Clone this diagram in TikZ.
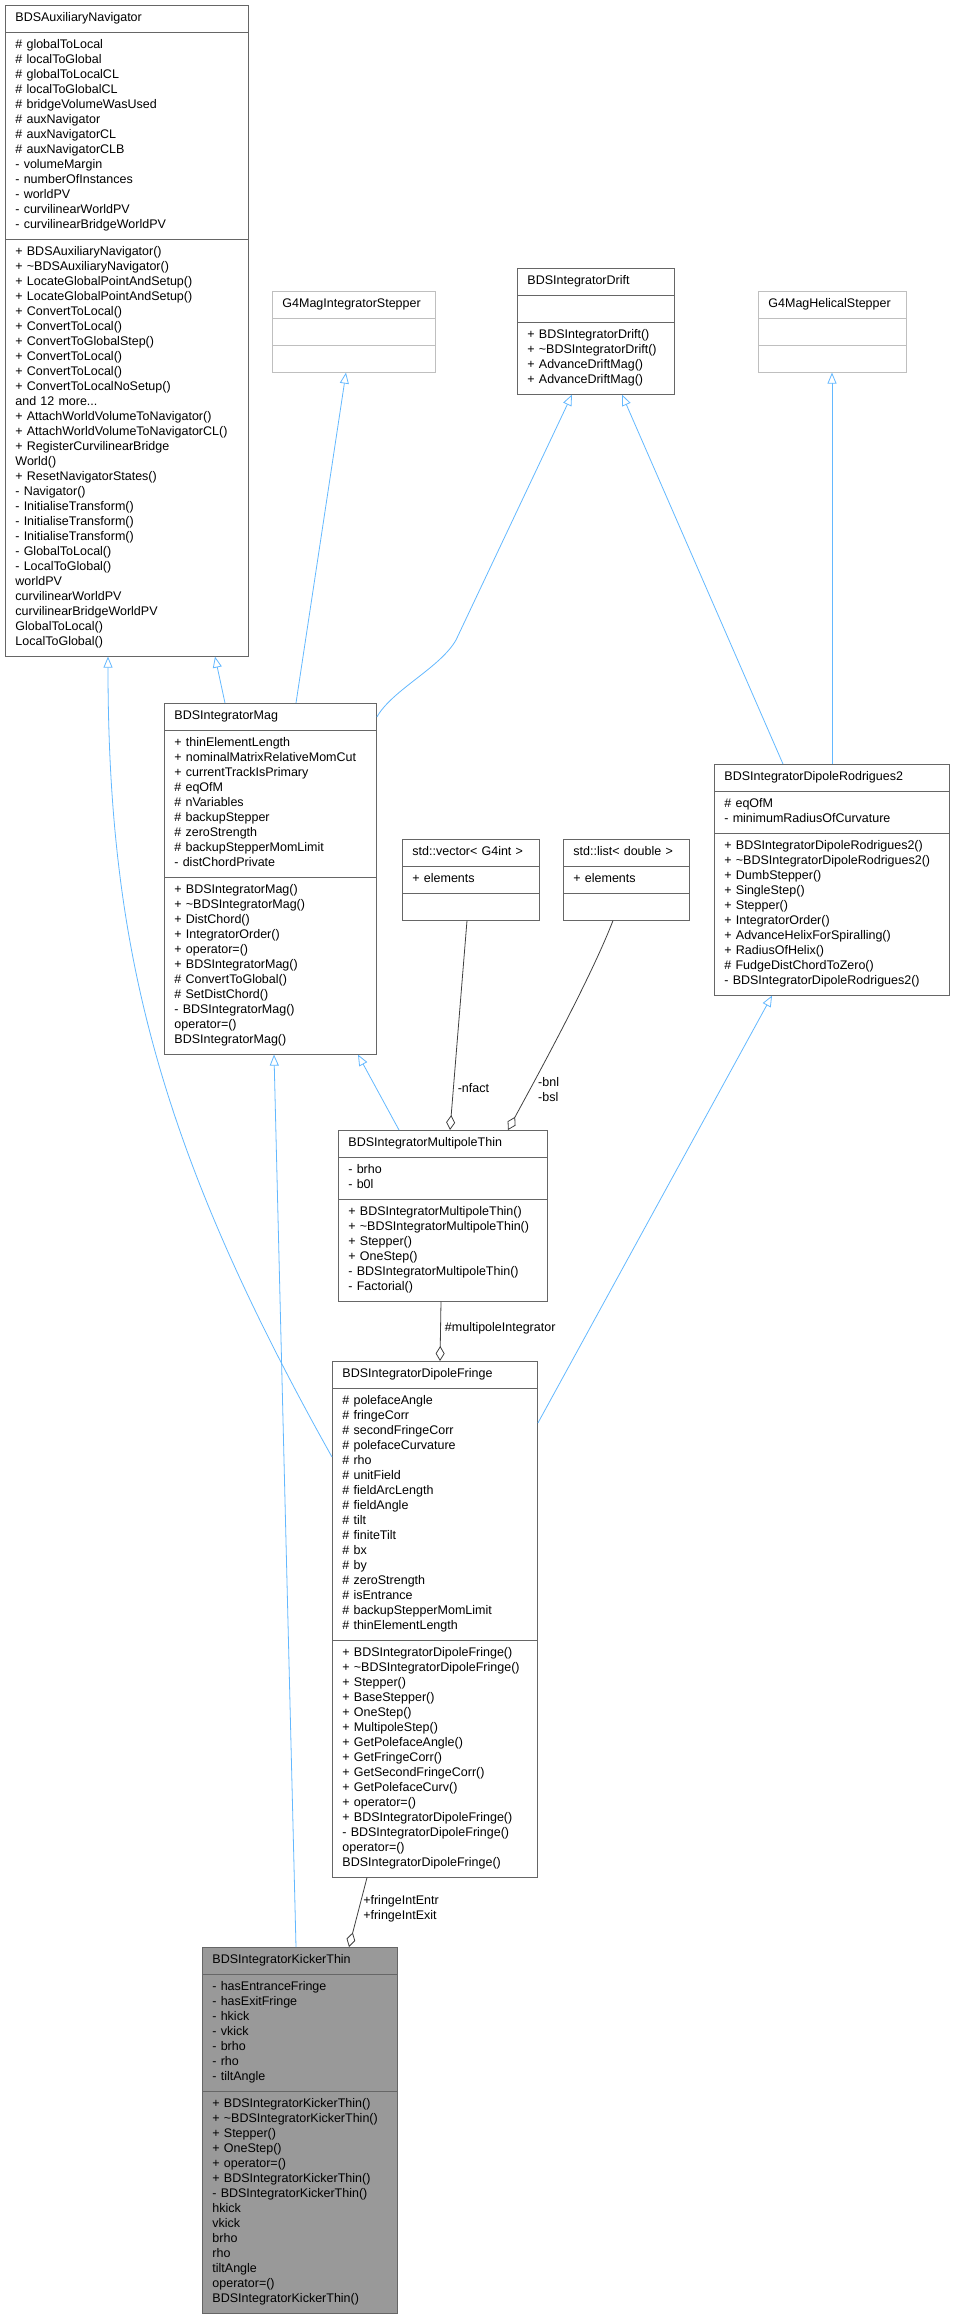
\documentclass[tikz,border=0pt]{standalone}
\usepackage{fontspec}
\setmainfont{Liberation Sans}
\usepackage{tikz}
\usetikzlibrary{shapes.multipart, arrows.meta, positioning, calc}
\definecolor{boxLine}{RGB}{102,102,102}
\definecolor{extLine}{RGB}{191,191,191}
\definecolor{inhBlue}{RGB}{99,184,255}
\definecolor{aggrGray}{RGB}{64,64,64}
\definecolor{kickFill}{RGB}{153,153,153}
\newcommand{\classfont}{\fontsize{12.5}{15}\selectfont}
\newcommand{\mlines}[1]{\strut#1\strut}
\tikzstyle{classBox} = [rectangle split, rectangle split parts=3, draw=boxLine, fill=white, line width=0.9pt, anchor=north west, inner xsep=10pt, inner ysep=5.5pt, align=left, font=\classfont]
\tikzstyle{extBox} = [classBox, draw=extLine]
\tikzstyle{inherit} = [draw=inhBlue, line width=0.8pt, -{Triangle[open, length=11pt, width=9pt, fill=white]}]
\tikzstyle{aggr} = [draw=aggrGray, line width=0.8pt, -{Diamond[open, length=15pt, width=9pt, fill=white]}]
\tikzstyle{edgeLabel} = [anchor=west, inner sep=0pt, align=left, font=\classfont]

\begin{document}
\begin{tikzpicture}[x=1pt, y=-1pt]
	\useasboundingbox (0,0) rectangle (955,2321);

	\node[classBox, text width=223pt] at (5,5) (aux) {\centering\mlines{BDSAuxiliaryNavigator}
		\nodepart{two}\mlines{\# globalToLocal\\\# localToGlobal\\\# globalToLocalCL\\\# localToGlobalCL\\\# bridgeVolumeWasUsed\\\# auxNavigator\\\# auxNavigatorCL\\\# auxNavigatorCLB\\- volumeMargin\\- numberOfInstances\\- worldPV\\- curvilinearWorldPV\\- curvilinearBridgeWorldPV}
		\nodepart{three}\mlines{+ BDSAuxiliaryNavigator()\\+ \textasciitilde BDSAuxiliaryNavigator()\\+ LocateGlobalPointAndSetup()\\+ LocateGlobalPointAndSetup()\\+ ConvertToLocal()\\+ ConvertToLocal()\\+ ConvertToGlobalStep()\\+ ConvertToLocal()\\+ ConvertToLocal()\\+ ConvertToLocalNoSetup()\\and 12 more...\\+ AttachWorldVolumeToNavigator()\\+ AttachWorldVolumeToNavigatorCL()\\+ RegisterCurvilinearBridge\\World()\\+ ResetNavigatorStates()\\- Navigator()\\- InitialiseTransform()\\- InitialiseTransform()\\- InitialiseTransform()\\- GlobalToLocal()\\- LocalToGlobal()\\* worldPV\\* curvilinearWorldPV\\* curvilinearBridgeWorldPV\\* GlobalToLocal()\\* LocalToGlobal()}};

	\node[extBox, text width=143pt] at (272,291) (g4step) {\centering\mlines{G4MagIntegratorStepper}
		\nodepart{two}\mlines{}
		\nodepart{three}\mlines{}};

	\node[classBox, text width=137pt] at (517,268) (drift) {\centering\mlines{BDSIntegratorDrift}
		\nodepart{two}\mlines{}
		\nodepart{three}\mlines{+ BDSIntegratorDrift()\\+ \textasciitilde BDSIntegratorDrift()\\+ AdvanceDriftMag()\\+ AdvanceDriftMag()}};

	\node[extBox, text width=128pt] at (758,291) (helical) {\centering\mlines{G4MagHelicalStepper}
		\nodepart{two}\mlines{}
		\nodepart{three}\mlines{}};

	\node[classBox, text width=192pt] at (164,703) (mag) {\centering\mlines{BDSIntegratorMag}
		\nodepart{two}\mlines{+ thinElementLength\\+ nominalMatrixRelativeMomCut\\+ currentTrackIsPrimary\\\# eqOfM\\\# nVariables\\\# backupStepper\\\# zeroStrength\\\# backupStepperMomLimit\\- distChordPrivate}
		\nodepart{three}\mlines{+ BDSIntegratorMag()\\+ \textasciitilde BDSIntegratorMag()\\+ DistChord()\\+ IntegratorOrder()\\+ operator=()\\+ BDSIntegratorMag()\\\# ConvertToGlobal()\\\# SetDistChord()\\- BDSIntegratorMag()\\* operator=()\\* BDSIntegratorMag()}};

	\node[classBox, text width=117pt] at (402,839) (vecInt) {\centering\mlines{std::vector< G4int >}
		\nodepart{two}\mlines{+ elements}
		\nodepart{three}\mlines{}};

	\node[classBox, text width=106pt] at (563,839) (listDbl) {\centering\mlines{std::list< double >}
		\nodepart{two}\mlines{+ elements}
		\nodepart{three}\mlines{}};

	\node[classBox, text width=215pt] at (714,764) (rodri) {\centering\mlines{BDSIntegratorDipoleRodrigues2}
		\nodepart{two}\mlines{\# eqOfM\\- minimumRadiusOfCurvature}
		\nodepart{three}\mlines{+ BDSIntegratorDipoleRodrigues2()\\+ \textasciitilde BDSIntegratorDipoleRodrigues2()\\+ DumbStepper()\\+ SingleStep()\\+ Stepper()\\+ IntegratorOrder()\\+ AdvanceHelixForSpiralling()\\+ RadiusOfHelix()\\\# FudgeDistChordToZero()\\- BDSIntegratorDipoleRodrigues2()}};

	\node[classBox, text width=189pt] at (338,1130) (multi) {\centering\mlines{BDSIntegratorMultipoleThin}
		\nodepart{two}\mlines{- brho\\- b0l}
		\nodepart{three}\mlines{+ BDSIntegratorMultipoleThin()\\+ \textasciitilde BDSIntegratorMultipoleThin()\\+ Stepper()\\+ OneStep()\\- BDSIntegratorMultipoleThin()\\- Factorial()}};

	\node[classBox, text width=185pt] at (332,1361) (fringe) {\centering\mlines{BDSIntegratorDipoleFringe}
		\nodepart{two}\mlines{\# polefaceAngle\\\# fringeCorr\\\# secondFringeCorr\\\# polefaceCurvature\\\# rho\\\# unitField\\\# fieldArcLength\\\# fieldAngle\\\# tilt\\\# finiteTilt\\\# bx\\\# by\\\# zeroStrength\\\# isEntrance\\\# backupStepperMomLimit\\\# thinElementLength}
		\nodepart{three}\mlines{+ BDSIntegratorDipoleFringe()\\+ \textasciitilde BDSIntegratorDipoleFringe()\\+ Stepper()\\+ BaseStepper()\\+ OneStep()\\+ MultipoleStep()\\+ GetPolefaceAngle()\\+ GetFringeCorr()\\+ GetSecondFringeCorr()\\+ GetPolefaceCurv()\\+ operator=()\\+ BDSIntegratorDipoleFringe()\\- BDSIntegratorDipoleFringe()\\* operator=()\\* BDSIntegratorDipoleFringe()}};

	\node[classBox, fill=kickFill, text width=175pt] at (202,1947) (kicker) {\centering\mlines{BDSIntegratorKickerThin}
		\nodepart{two}\mlines{- hasEntranceFringe\\- hasExitFringe\\- hkick\\- vkick\\- brho\\- rho\\- tiltAngle}
		\nodepart{three}\mlines{+ BDSIntegratorKickerThin()\\+ \textasciitilde BDSIntegratorKickerThin()\\+ Stepper()\\+ OneStep()\\+ operator=()\\+ BDSIntegratorKickerThin()\\- BDSIntegratorKickerThin()\\* hkick\\* vkick\\* brho\\* rho\\* tiltAngle\\* operator=()\\* BDSIntegratorKickerThin()}};

	% inheritance
	\draw[inherit] ([xshift=61pt]mag.north west) -- ([xshift=210pt]aux.south west);
	\draw[inherit] ([xshift=132pt]mag.north west) -- ([xshift=74pt]g4step.south west);
	\draw[inherit] ([yshift=-14pt]mag.north east) .. controls (392,690) and (440,668) .. (456,640) -- ([xshift=55pt]drift.south west);
	\draw[inherit] ([xshift=69pt]rodri.north west) -- ([xshift=105pt]drift.south west);
	\draw[inherit] ([xshift=118pt]rodri.north west) -- ([xshift=74pt]helical.south west);
	\draw[inherit] ([xshift=61pt]multi.north west) -- ([xshift=194pt]mag.south west);
	\draw[inherit] ([yshift=-96pt]fringe.north west) .. controls (160,1150) and (108,950) .. ([xshift=103pt]aux.south west);
	\draw[inherit] ([yshift=-62pt]fringe.north east) -- ([xshift=58pt]rodri.south west);
	\draw[inherit] ([xshift=94pt]kicker.north west) -- ([xshift=110pt]mag.south west);

	% aggregation
	\draw[aggr] ([xshift=65pt]vecInt.south west) -- node[edgeLabel, pos=0.8, xshift=4pt]{-nfact} ([xshift=112pt]multi.north west);
	\draw[aggr] ([xshift=50pt]listDbl.south west) .. controls (590,980) and (535,1080) .. ([xshift=170pt]multi.north west);
	\node[edgeLabel] at (538,1090) (bnlLabel) {-bnl\\-bsl};
	\draw[aggr] ([xshift=103pt]multi.south west) -- node[edgeLabel, pos=0.45, xshift=4pt]{\#multipoleIntegrator} ([xshift=108pt]fringe.north west);
	\draw[aggr] ([xshift=35pt]fringe.south west) -- node[edgeLabel, pos=0.45, xshift=4pt]{+fringeIntEntr\\+fringeIntExit} ([xshift=147pt]kicker.north west);

\end{tikzpicture}
\end{document}
